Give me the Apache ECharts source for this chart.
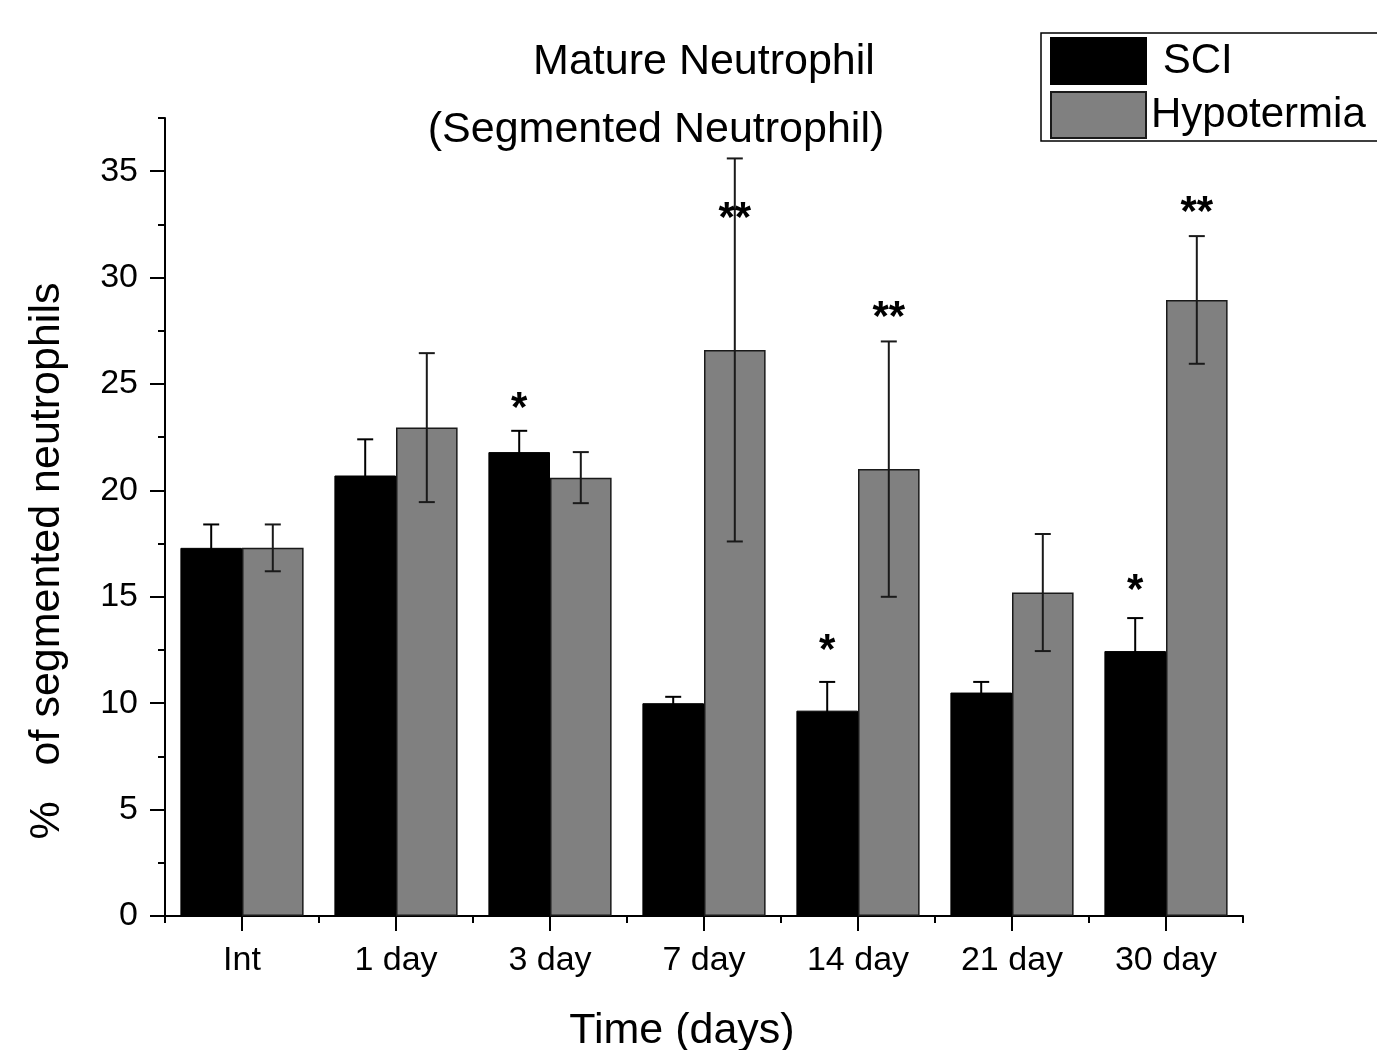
<!DOCTYPE html>
<html>
<head>
<meta charset="utf-8">
<script src="https://cdn.jsdelivr.net/npm/echarts@6/dist/echarts.min.js"></script>
<style>
html,body{margin:0;padding:0;background:#fff;}
#chart{width:1377px;height:1050px;}
</style>
</head>
<body>
<div id="chart"></div>
<script>
// ---- data ----
var categories = ['Int', '1 day', '3 day', '7 day', '14 day', '21 day', '30 day'];
var sciMean   = [17.3, 20.7, 21.8, 10.0, 9.65, 10.5, 12.45];
var sciErr    = [1.1, 1.7, 1.0, 0.3, 1.35, 0.5, 1.55];
var hypoMean  = [17.3, 22.95, 20.6, 26.6, 21.0, 15.2, 28.95];
var hypoErr   = [1.1, 3.5, 1.2, 9.0, 6.0, 2.75, 3.0];
var sciSig    = ['', '', '*', '', '*', '', '*'];
var sciSigY   = [null, null, 24.3, null, 12.95, null, 15.75];
var hypoSig   = ['', '', '', '**', '**', '', '**'];
var hypoSigY  = [null, null, null, 33.25, 28.6, null, 33.55];
var yTicks    = [0, 5, 10, 15, 20, 25, 30, 35];

var FONT = '"Liberation Sans", Arial, sans-serif';
var CAT_GAP = 0.2;

function errData(mean, err) {
  return mean.map(function (m, i) { return [i, m, err[i]]; });
}
function sigData(ys) {
  var out = [];
  ys.forEach(function (y, i) { if (y !== null) out.push([i, y]); });
  return out;
}
function errRender(sign, color) {
  return function (params, api) {
    var i = api.value(0), m = api.value(1), e = api.value(2);
    var bw = api.size([1, 0])[0] * (1 - CAT_GAP) / 2;
    var top = api.coord([i, m + e]);
    var bot = api.coord([i, m - e]);
    var x = top[0] + sign * bw / 2;
    var cap = 8;
    var st = { stroke: color, lineWidth: 2 };
    return {
      type: 'group',
      children: [
        { type: 'line', shape: { x1: x, y1: top[1], x2: x, y2: bot[1] }, style: st },
        { type: 'line', shape: { x1: x - cap, y1: top[1], x2: x + cap, y2: top[1] }, style: st },
        { type: 'line', shape: { x1: x - cap, y1: bot[1], x2: x + cap, y2: bot[1] }, style: st }
      ]
    };
  };
}
function sigRender(sign, labels) {
  return function (params, api) {
    var i = api.value(0), y = api.value(1);
    var bw = api.size([1, 0])[0] * (1 - CAT_GAP) / 2;
    var p = api.coord([i, y]);
    var x = p[0] + sign * bw / 2;
    return {
      type: 'text',
      x: x, y: p[1] + 11,
      style: {
        text: labels[i], fill: '#000', font: 'bold 42px ' + FONT,
        textAlign: 'center', textVerticalAlign: 'middle'
      }
    };
  };
}

var chart = echarts.init(document.getElementById('chart'), null, { renderer: 'canvas' });
chart.setOption({
  backgroundColor: '#fff',
  animation: false,
  textStyle: { fontFamily: FONT, color: '#000' },
  title: [
    { text: 'Mature Neutrophil', left: 699, top: 36, textAlign: 'center',
      textStyle: { fontFamily: FONT, fontSize: 43, fontWeight: 'normal', color: '#000' } },
    { text: '(Segmented Neutrophil)', left: 651, top: 104, textAlign: 'center',
      textStyle: { fontFamily: FONT, fontSize: 43, fontWeight: 'normal', color: '#000' } }
  ],
  legend: {
    orient: 'vertical', left: 1041, top: 33,
    padding: [4, 30, 2, 9], itemGap: 6,
    itemWidth: 95, itemHeight: 46,
    borderColor: '#000', borderWidth: 1.5,
    icon: 'rect',
    formatter: function (n) { return n === 'SCI' ? ' SCI' : n; },
    textStyle: { fontFamily: FONT, fontSize: 42, color: '#000' },
    data: ['SCI', 'Hypotermia']
  },
  grid: { left: 165, right: 134, top: 118, bottom: 134, containLabel: false, outerBoundsMode: 'none' },
  xAxis: [
    {
      type: 'category', data: categories, position: 'bottom',
      name: 'Time (days)', nameLocation: 'middle', nameGap: 94,
      nameTextStyle: { fontFamily: FONT, fontSize: 43, color: '#000', padding: [0, 44, 0, 0] },
      axisLine: { show: true, lineStyle: { color: '#000', width: 2 } },
      axisTick: { show: true, alignWithLabel: true, length: 15, inside: false, lineStyle: { color: '#000', width: 2 } },
      axisLabel: { fontFamily: FONT, fontSize: 34, color: '#000', margin: 28 },
      splitLine: { show: false }
    },
    {
      type: 'category', data: categories, position: 'bottom', gridIndex: 0,
      axisLine: { show: false },
      axisTick: { show: true, length: 7, inside: false, lineStyle: { color: '#000', width: 2 } },
      axisLabel: { show: false },
      splitLine: { show: false }
    }
  ],
  yAxis: [
    {
      type: 'value', min: 0, max: 37.5, interval: 5, position: 'left',
      name: '%   of segmented neutrophils', nameLocation: 'middle', nameGap: 96, nameRotate: 90,
      nameTextStyle: { fontFamily: FONT, fontSize: 43, color: '#000', padding: [0, 88, 0, 0] },
      axisLine: { show: true, lineStyle: { color: '#000', width: 2 } },
      axisTick: { show: true, length: 15, inside: false, customValues: yTicks, lineStyle: { color: '#000', width: 2 } },
      axisLabel: { fontFamily: FONT, fontSize: 34, color: '#000', margin: 27, customValues: yTicks },
      splitLine: { show: false }
    },
    {
      type: 'value', min: 0, max: 37.5, interval: 2.5, position: 'left',
      axisLine: { show: false },
      axisTick: { show: true, length: 7, inside: false, lineStyle: { color: '#000', width: 2 } },
      axisLabel: { show: false },
      splitLine: { show: false }
    }
  ],
  series: [
    {
      name: 'SCI', type: 'bar', data: sciMean, barGap: '0%', barCategoryGap: '20%',
      itemStyle: { color: '#000', borderColor: '#000', borderWidth: 1 }
    },
    {
      name: 'Hypotermia', type: 'bar', data: hypoMean, barGap: '0%', barCategoryGap: '20%',
      itemStyle: { color: '#808080', borderColor: '#1a1a1a', borderWidth: 1.5 }
    },
    {
      name: 'SCI err', type: 'custom', data: errData(sciMean, sciErr),
      renderItem: errRender(-1, '#000'), encode: { x: 0, y: 1 }, z: 5, silent: true
    },
    {
      name: 'Hypotermia err', type: 'custom', data: errData(hypoMean, hypoErr),
      renderItem: errRender(1, '#1a1a1a'), encode: { x: 0, y: 1 }, z: 5, silent: true
    },
    {
      name: 'SCI sig', type: 'custom', data: sigData(sciSigY),
      renderItem: sigRender(-1, sciSig), encode: { x: 0, y: 1 }, z: 6, silent: true
    },
    {
      name: 'Hypotermia sig', type: 'custom', data: sigData(hypoSigY),
      renderItem: sigRender(1, hypoSig), encode: { x: 0, y: 1 }, z: 6, silent: true
    }
  ]
});
</script>
</body>
</html>
